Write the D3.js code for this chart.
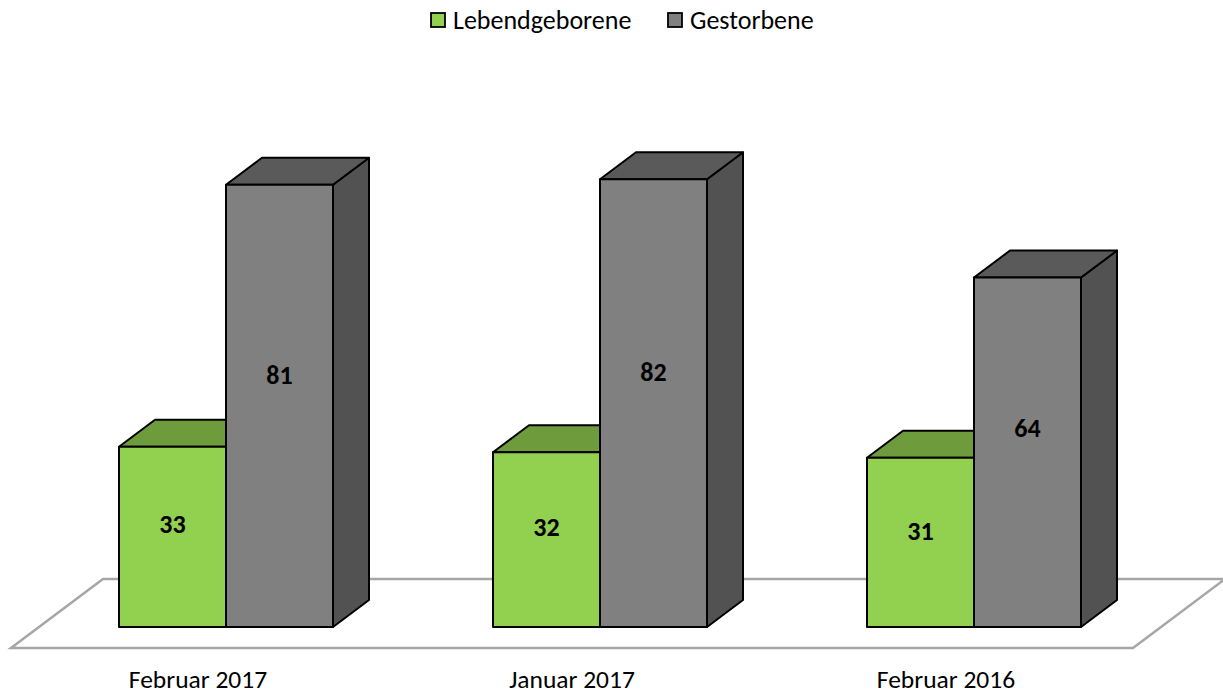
<!DOCTYPE html>
<html><head><meta charset="utf-8">
<script src="https://cdn.jsdelivr.net/npm/d3@7"></script>
<style>body{margin:0;background:#fff}svg{display:block}</style>
</head><body><svg id="c" width="1223" height="695"></svg>
<script>
const categories = ["Februar 2017", "Januar 2017", "Februar 2016"];
const seriesNames = ["Lebendgeborene", "Gestorbene"];
const lebendgeborene = [33, 32, 31];
const gestorbene = [81, 82, 64];

const colors = {
  Lebendgeborene: {front: "#92d050", top: "#6e9b3c", side: "#5f8a33"},
  Gestorbene: {front: "#808080", top: "#5a5a5a", side: "#525252"}
};
const FONT = "Carlito, Calibri, 'Open Sans', sans-serif";
const svg = d3.select("#c");

const floorFrontY = 648, floorLeft = 11, floorRight = 1133;
const floorDX = 92, floorDY = -69;
const barShiftX = 28, barShiftY = -21;
const depthX = 36, depthY = -27;

const x = d3.scaleBand().domain(categories).range([floorLeft, floorRight]).padding(0);
const barW = 107;
const xs = d3.scaleBand().domain(seriesNames).range([-barW, barW]).padding(0);
const base = floorFrontY + barShiftY;
const y = d3.scaleLinear().domain([0, 100]).range([base, base - 546]);

svg.append("path")
  .attr("d", d3.line()([[floorLeft, floorFrontY],[floorRight, floorFrontY],
    [floorRight + floorDX, floorFrontY + floorDY],[floorLeft + floorDX, floorFrontY + floorDY]]) + "Z")
  .attr("fill", "#fff").attr("stroke", "#a6a6a6").attr("stroke-width", 2.5);

const data = categories.map((c, i) => ({c, vals: [
  {s: seriesNames[0], v: lebendgeborene[i]},
  {s: seriesNames[1], v: gestorbene[i]}]}));

const line = d3.line();
data.forEach(g => {
  const cx = x(g.c) + x.bandwidth() / 2 + barShiftX;
  g.vals.forEach(d => {
    const x0 = cx + xs(d.s), x1 = x0 + xs.bandwidth();
    const y0 = base, y1 = y(d.v);
    const col = colors[d.s];
    const gg = svg.append("g").attr("stroke", "#000").attr("stroke-width", 2).attr("stroke-linejoin", "round");
    gg.append("path").attr("d", line([[x1, y0],[x1 + depthX, y0 + depthY],[x1 + depthX, y1 + depthY],[x1, y1]]) + "Z").attr("fill", col.side);
    gg.append("path").attr("d", line([[x0, y1],[x1, y1],[x1 + depthX, y1 + depthY],[x0 + depthX, y1 + depthY]]) + "Z").attr("fill", col.top);
    gg.append("path").attr("d", line([[x0, y0],[x1, y0],[x1, y1],[x0, y1]]) + "Z").attr("fill", col.front);
  });
});

data.forEach(g => {
  const cx = x(g.c) + x.bandwidth() / 2 + barShiftX;
  g.vals.forEach(d => {
    svg.append("text")
      .attr("x", cx + xs(d.s) + xs.bandwidth() / 2)
      .attr("y", y(d.v * 0.57))
      .attr("text-anchor", "middle").attr("dominant-baseline", "central")
      .attr("font-family", FONT).attr("font-weight", "bold").attr("font-size", 26)
      .attr("fill", "#000").text(d.v);
  });
});

categories.forEach(c => {
  svg.append("text").attr("x", x(c) + x.bandwidth() / 2).attr("y", 688)
    .attr("text-anchor", "middle").attr("font-family", FONT).attr("font-size", 25.5)
    .attr("fill", "#000").text(c);
});

const legendItems = [{s: seriesNames[0], x: 431}, {s: seriesNames[1], x: 668}];
legendItems.forEach(l => {
  svg.append("rect").attr("x", l.x).attr("y", 13).attr("width", 14).attr("height", 14)
    .attr("fill", colors[l.s].front).attr("stroke", "#000").attr("stroke-width", 1.8);
  svg.append("text").attr("x", l.x + 22).attr("y", 29).attr("font-family", FONT)
    .attr("font-size", 26).attr("fill", "#000").text(l.s);
});
</script></body></html>
